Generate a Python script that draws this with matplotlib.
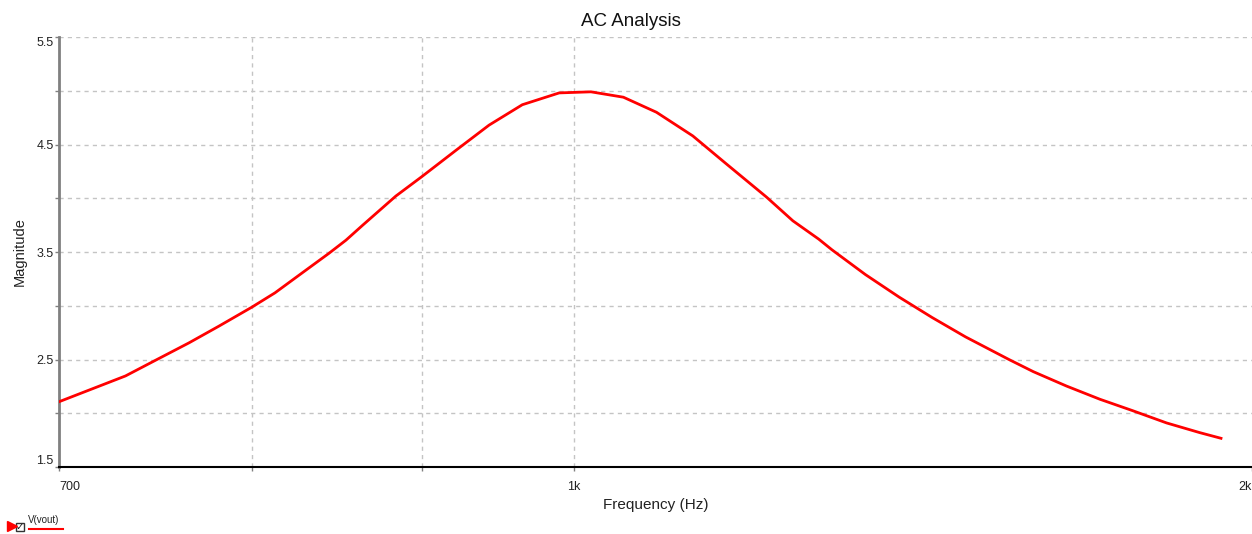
import matplotlib
matplotlib.use("Agg")
import matplotlib.pyplot as plt
from matplotlib.lines import Line2D
from matplotlib.patches import Rectangle
from matplotlib.ticker import FixedLocator, NullFormatter

# ---- data ----
freq_hz = [700, 733, 748, 766, 782, 800, 813, 828, 844, 854, 864, 884, 900, 922,
           943, 965, 990, 1012, 1035, 1059, 1086, 1111, 1143, 1164, 1185, 1196,
           1224, 1253, 1282, 1312, 1352, 1375, 1407, 1440, 1473, 1508, 1543, 1566]
magnitude = [2.107, 2.347, 2.489, 2.655, 2.81, 2.986, 3.12, 3.30, 3.488, 3.61,
             3.75, 4.02, 4.20, 4.45, 4.68, 4.87, 4.98, 4.99, 4.94, 4.80, 4.58,
             4.325, 4.01, 3.79, 3.62, 3.52, 3.29, 3.08, 2.89, 2.71, 2.50, 2.387,
             2.253, 2.13, 2.024, 1.91, 1.82, 1.767]
series_name = "V(vout)"

x_major_ticks = [700, 1000, 1600]
x_major_labels = ["700", "1k", "2k"]
x_minor_ticks = [800, 900]
y_major_ticks = [1.5, 2.5, 3.5, 4.5, 5.5]
y_major_labels = ["1.5", "2.5", "3.5", "4.5", "5.5"]
y_minor_ticks = [2.0, 3.0, 4.0, 5.0]
y_grid = [2.0, 2.5, 3.0, 3.5, 4.0, 4.5, 5.0, 5.5]
x_grid = [800, 900, 1000]

title = "AC Analysis"
xlabel = "Frequency (Hz)"
ylabel = "Magnitude"

# ---- figure ----
plt.rcParams['font.family'] = ['Liberation Sans', 'DejaVu Sans']
W, H = 1252, 534
fig = plt.figure(figsize=(W / 100, H / 100), dpi=100)
ax = fig.add_axes([59 / W, 1 - 467 / H, (W - 59) / W, (467 - 37) / H])

ax.set_xscale('log')
ax.set_xlim(700, 1600)
ax.set_ylim(1.5, 5.5)

grid_kw = dict(color='#c4c4c4', lw=1.0, dashes=(3, 3), zorder=1)
for g in y_grid:
    ax.axhline(g, **grid_kw)
for g in x_grid:
    ax.axvline(g, **grid_kw)

ax.plot(freq_hz, magnitude, color='#ff0000', lw=2.0, zorder=3,
        solid_joinstyle='round', label=series_name)

for s in ['top', 'right']:
    ax.spines[s].set_visible(False)
ax.spines['left'].set_color('#808080')
ax.spines['left'].set_linewidth(2.0)
ax.spines['bottom'].set_color('#000000')
ax.spines['bottom'].set_linewidth(1.5)

ax.xaxis.set_major_locator(FixedLocator(x_major_ticks))
ax.set_xticklabels(x_major_labels)
ax.xaxis.set_minor_locator(FixedLocator(x_minor_ticks))
ax.xaxis.set_minor_formatter(NullFormatter())
ax.yaxis.set_major_locator(FixedLocator(y_major_ticks))
ax.set_yticklabels(y_major_labels)
ax.yaxis.set_minor_locator(FixedLocator(y_minor_ticks))

ax.tick_params(axis='both', which='both', direction='out', length=3, width=1,
               color='#808080', labelsize=9, labelcolor='#222222')
ax.tick_params(axis='x', pad=7)
ax.tick_params(axis='y', pad=1)

xl = ax.get_xticklabels()
xl[0].set_ha('left')
xl[-1].set_ha('right')
yl = ax.get_yticklabels()
yl[0].set_va('bottom')
yl[-1].set_va('top')

ax.set_xlabel(xlabel, fontsize=11, color='#222222', labelpad=4)
ax.set_ylabel(ylabel, fontsize=10.5, color='#222222', labelpad=7)
fig.text(631 / W, 1 - 21 / H, title, ha='center', va='center', fontsize=13.5,
         color='#111111')

# legend-like element at bottom left
fig.add_artist(Line2D([12 / W], [1 - 526 / H], marker='>', color='#ff0000',
                      markersize=7, transform=fig.transFigure, lw=0))
fig.add_artist(Rectangle((16 / W, 1 - 531 / H), 8 / W, 8 / H, transform=fig.transFigure,
                         fill=False, edgecolor='#333333', lw=1))
fig.text(20 / W, 1 - 527 / H, "\u2713", ha='center', va='center', fontsize=7,
         color='#111111', family='DejaVu Sans', fontweight='bold')
fig.text(28 / W, 1 - 520 / H, series_name, ha='left', va='center', fontsize=7,
         color='#222222')
fig.add_artist(Line2D([29 / W, 63 / W], [1 - 529 / H, 1 - 529 / H], color='#ff0000',
                      lw=1.5, transform=fig.transFigure))

fig.savefig('out.png', dpi=100)
